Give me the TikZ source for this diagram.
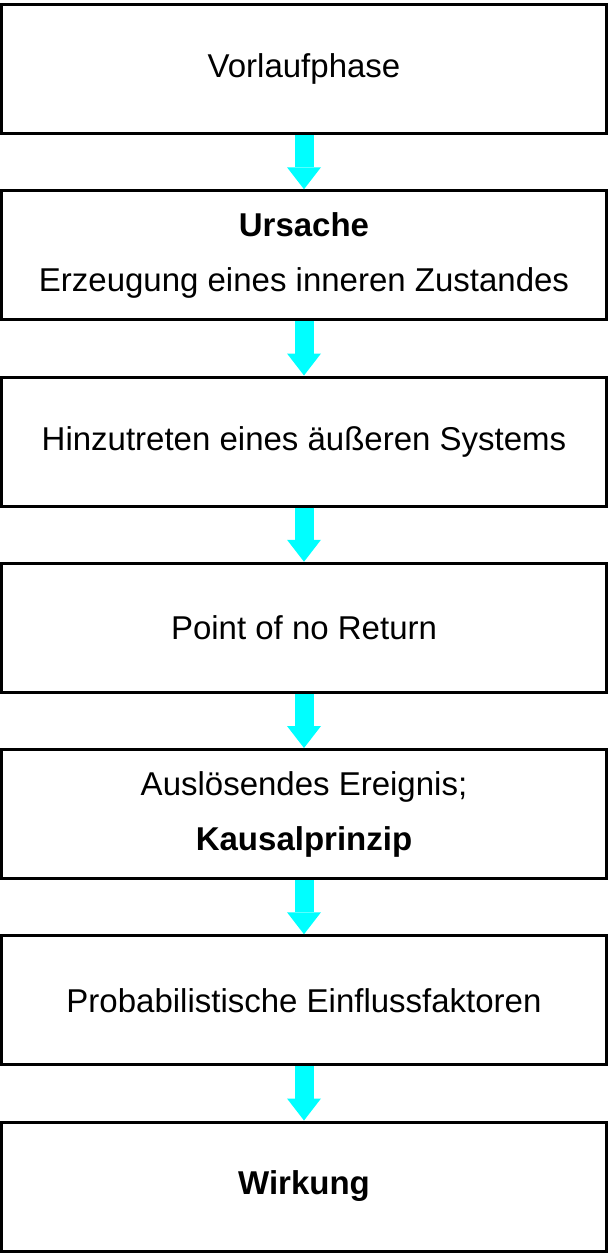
\documentclass[tikz,border=0pt]{standalone}
\usepackage{fontspec}
\setmainfont{Liberation Sans}
\usetikzlibrary{arrows.meta}
\definecolor{arrowcyan}{RGB}{0,255,255}
\begin{document}
\begin{tikzpicture}[x=1pt,y=-1pt,
  stagebox/.style={draw=black,line width=3pt,minimum width=605pt,minimum height=129pt,
    inner sep=0pt,align=center,font=\fontsize{33pt}{55pt}\selectfont},
  flowarrow/.style={draw=arrowcyan,line width=19pt,
    -{Triangle[width=34pt,length=22pt,line width=0pt,fill=arrowcyan,color=arrowcyan]}}]
\useasboundingbox (0,0) rectangle (608,1254);
\node[stagebox] (b1) at (304,69) {Vorlaufphase};
\node[stagebox] (b2) at (304,255.25) {\textbf{Ursache}\\Erzeugung eines inneren Zustandes};
\node[stagebox] (b3) at (304,441.5) {Hinzutreten eines äußeren Systems};
\node[stagebox] (b4) at (304,627.75) {Point of no Return};
\node[stagebox] (b5) at (304,814) {Auslösendes Ereignis;\\\textbf{Kausalprinzip}};
\node[stagebox] (b6) at (304,1000.25) {Probabilistische Einflussfaktoren};
\node[stagebox] (b7) at (304,1186.5) {\textbf{Wirkung}};
\draw[flowarrow] (b1.south) -- (b2.north);
\draw[flowarrow] (b2.south) -- (b3.north);
\draw[flowarrow] (b3.south) -- (b4.north);
\draw[flowarrow] (b4.south) -- (b5.north);
\draw[flowarrow] (b5.south) -- (b6.north);
\draw[flowarrow] (b6.south) -- (b7.north);
\end{tikzpicture}
\end{document}
